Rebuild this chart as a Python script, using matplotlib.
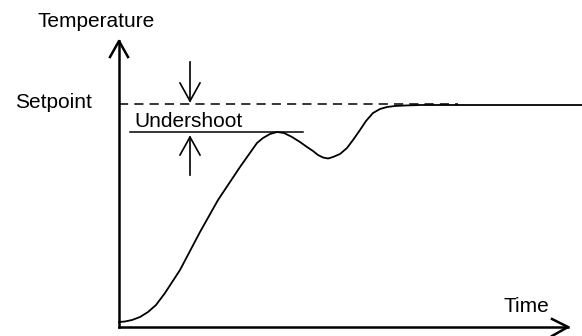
import matplotlib.pyplot as plt

plt.rcParams['font.family'] = ['Liberation Sans', 'DejaVu Sans']

# response curve, in figure-pixel units (y grows downward)
time = [119, 125, 132, 140, 148, 156, 165, 180, 200, 218, 240, 257, 263, 270,
        277, 284, 292, 300, 307, 313, 318, 323, 328, 333, 340, 347, 353, 360,
        366, 373, 380, 387, 395, 405, 420, 582]
temp = [322, 321.5, 320, 317, 312, 305, 293, 270, 232, 200, 167, 143, 138, 134,
        132, 133, 137, 142, 147, 151, 155, 157.5, 158.5, 157, 154, 148, 140, 130,
        121, 113, 109, 107, 106, 105.5, 105, 105]

setpoint = 104
undershoot = 132
origin = (119, 327)

fig = plt.figure(figsize=(5.82, 3.36), dpi=100)
ax = fig.add_axes([0, 0, 1, 1])
ax.set_xlim(0, 582)
ax.set_ylim(336, 0)
ax.axis('off')

k = 'black'
# axes with open arrowheads
ax.plot([origin[0], origin[0]], [origin[1], 41], color=k, lw=1.8)
ax.plot([110, origin[0], 128], [57, 41, 57], color=k, lw=1.8)
ax.plot([origin[0], 568], [origin[1], origin[1]], color=k, lw=1.8)
ax.plot([552, 568, 552], [319, origin[1], 336], color=k, lw=1.8)

# setpoint and undershoot level
ax.plot([origin[0], 458], [setpoint, setpoint], color=k, lw=1.1, ls=(0, (6, 4)))
ax.plot([130, 303], [undershoot, undershoot], color=k, lw=1.1)

# response
ax.plot(time, temp, color=k, lw=1.3)

# undershoot markers
ax.plot([190, 190], [62, setpoint - 3], color=k, lw=1.2)
ax.plot([180, 190, 200], [83, setpoint - 3, 83], color=k, lw=1.2)
ax.plot([190, 190], [175, undershoot + 5], color=k, lw=1.2)
ax.plot([180, 190, 200], [155, undershoot + 5, 155], color=k, lw=1.2)

fs = 15
ax.text(37, 27, 'Temperature', fontsize=fs, va='baseline', ha='left')
ax.text(15, 108, 'Setpoint', fontsize=fs, va='baseline', ha='left')
ax.text(134, 127, 'Undershoot', fontsize=fs, va='baseline', ha='left')
ax.text(503, 312, 'Time', fontsize=fs, va='baseline', ha='left')

fig.savefig('out.png', dpi=100)
